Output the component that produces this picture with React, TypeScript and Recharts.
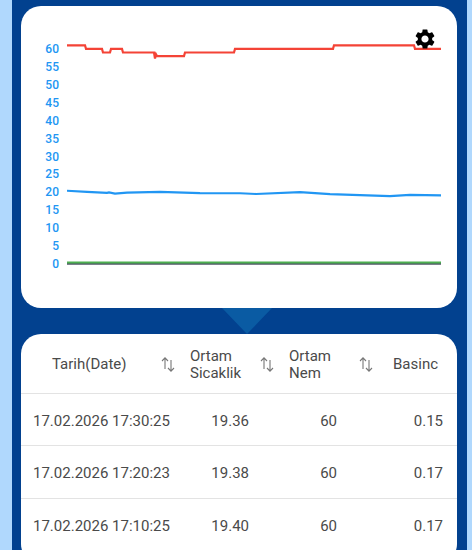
import React from "react";
import { LineChart, Line, XAxis, YAxis } from "recharts";

const yTicks = [0, 5, 10, 15, 20, 25, 30, 35, 40, 45, 50, 55, 60];

// sample offset (along the time axis) and reading
const humidityT = [0, 18, 19, 35, 36, 43, 44, 55, 56, 87, 88, 89, 90, 117, 118, 167, 168, 266, 267, 347, 348, 374];
const humidityV = [60.9, 60.9, 59.9, 59.9, 58.9, 58.9, 59.9, 59.9, 58.9, 58.9, 57.2, 58.4, 57.9, 57.9, 58.9, 58.9, 59.9, 59.9, 60.9, 60.9, 59.9, 59.9];

const tempT = [0, 20, 40, 42, 48, 60, 93, 133, 173, 189, 233, 263, 323, 343, 374];
const tempV = [20.4, 20.1, 19.8, 19.95, 19.6, 19.85, 20.1, 19.75, 19.7, 19.5, 20.0, 19.45, 18.9, 19.25, 19.1];

const pressT = [0, 374];
const pressV = [0.45, 0.45];
const lowT = [0, 374];
const lowV = [0.05, 0.05];

const toRows = (t: number[], v: number[]) => t.map((x, i) => ({ x, v: v[i] }));

const headers = ["Tarih(Date)", "Ortam\nSicaklik", "Ortam\nNem", "Basinc"];
const tableDates = ["17.02.2026 17:30:25", "17.02.2026 17:20:23", "17.02.2026 17:10:25"];
const tableTemp = ["19.36", "19.38", "19.40"];
const tableHum = ["60", "60", "60"];
const tablePress = ["0.15", "0.17", "0.17"];

const font = "Roboto, sans-serif";
const textColor = "#4a4a4a";

const abs = (left: number, top: number, extra: React.CSSProperties = {}): React.CSSProperties => ({
  position: "absolute",
  left,
  top,
  ...extra,
});

function SortIcon({ x, y }: { x: number; y: number }) {
  return (
    <svg style={abs(x, y)} width={16} height={17} viewBox="0 0 16 17" fill="none" stroke="#777" strokeWidth={1.1}>
      <path d="M5 13V2M2 5l3-3.2L8 5" />
      <path d="M11 4v11M8 12l3 3.2L14 12" />
    </svg>
  );
}

function HeaderText({ x, text }: { x: number; text: string }) {
  const lines = text.split("\n");
  return (
    <div style={abs(x, lines.length > 1 ? 348 : 356, { fontSize: 15, lineHeight: "17px", color: textColor, fontFamily: font, whiteSpace: "pre" })}>
      {text}
    </div>
  );
}

function Cell({ right, y, text }: { right: number; y: number; text: string }) {
  return (
    <div style={{ position: "absolute", right: 472 - right, top: y, fontSize: 15, lineHeight: "17px", color: textColor, fontFamily: font, whiteSpace: "pre" }}>
      {text}
    </div>
  );
}

export default function App() {
  return (
    <div style={{ position: "fixed", left: 0, top: 0, width: 472, height: 550, overflow: "hidden", background: "#b0d8fd", fontFamily: font }}>
      <div style={abs(12, 0, { width: 455, height: 550, background: "#02418f" })} />
      <svg style={abs(0, 0)} width={472} height={550}>
        <polygon points="222,308 272,308 247,334" fill="#0a5ba3" />
      </svg>
      <div style={abs(21, 6, { width: 436, height: 302, background: "#fff", borderRadius: 20 })} />
      <div style={abs(0, 0)}>
        <LineChart
          width={472}
          height={320}
          data={toRows(tempT, tempV)}
          margin={{ top: 30.6, right: 31, bottom: 56, left: 17 }}
        >
          <XAxis dataKey="x" type="number" domain={[0, 374]} hide allowDataOverflow />
          <YAxis
            domain={[0, 65]}
            ticks={yTicks}
            interval={0}
            axisLine={false}
            tickLine={false}
            width={50}
            tickMargin={2}
            tick={{ fontSize: 12, fontWeight: 500, fontFamily: font, fill: "#2196f3" }}
          />
          <Line data={toRows(lowT, lowV)} dataKey="v" type="linear" stroke="#4f5566" strokeWidth={2} dot={false} isAnimationActive={false} />
          <Line data={toRows(pressT, pressV)} dataKey="v" type="linear" stroke="#4caf50" strokeWidth={2} dot={false} isAnimationActive={false} />
          <Line data={toRows(tempT, tempV)} dataKey="v" type="linear" stroke="#2196f3" strokeWidth={2.2} dot={false} isAnimationActive={false} />
          <Line data={toRows(humidityT, humidityV)} dataKey="v" type="linear" stroke="#f44336" strokeWidth={2.2} dot={false} isAnimationActive={false} />
        </LineChart>
      </div>
      <svg style={abs(413, 27)} width={24} height={24} viewBox="0 0 24 24">
        <path
          fill="#000"
          d="M19.14 12.94c.04-.3.06-.61.06-.94 0-.32-.02-.64-.07-.94l2.03-1.58a.49.49 0 0 0 .12-.61l-1.92-3.32a.488.488 0 0 0-.59-.22l-2.39.96c-.5-.38-1.03-.7-1.62-.94l-.36-2.54a.484.484 0 0 0-.48-.41h-3.84c-.24 0-.43.17-.47.41l-.36 2.54c-.59.24-1.13.57-1.62.94l-2.39-.96c-.22-.08-.47 0-.59.22L2.74 8.87c-.12.21-.08.47.12.61l2.03 1.58c-.05.3-.09.63-.09.94s.02.64.07.94l-2.03 1.58a.49.49 0 0 0-.12.61l1.92 3.32c.12.22.37.29.59.22l2.39-.96c.5.38 1.03.7 1.62.94l.36 2.54c.05.24.24.41.48.41h3.84c.24 0 .44-.17.47-.41l.36-2.54c.59-.24 1.13-.56 1.62-.94l2.39.96c.22.08.47 0 .59-.22l1.92-3.32c.12-.22.07-.47-.12-.61l-2.01-1.58zM12 15.6c-1.98 0-3.6-1.62-3.6-3.6s1.62-3.6 3.6-3.6 3.6 1.62 3.6 3.6-1.62 3.6-3.6 3.6z"
        />
      </svg>
      <div style={abs(21, 334, { width: 436, height: 230, background: "#fff", borderRadius: 20 })} />
      <HeaderText x={52} text={headers[0]} />
      <HeaderText x={190} text={headers[1]} />
      <HeaderText x={289} text={headers[2]} />
      <HeaderText x={393} text={headers[3]} />
      <SortIcon x={160} y={356} />
      <SortIcon x={259} y={356} />
      <SortIcon x={358} y={356} />
      {[393, 445, 498].map((y) => (
        <div key={y} style={abs(21, y, { width: 436, height: 1, background: "#e3e3e3" })} />
      ))}
      {tableDates.map((d, i) => {
        const y = 412.5 + i * 52.6;
        return (
          <React.Fragment key={d}>
            <div style={abs(33, y, { fontSize: 15, lineHeight: "17px", color: textColor, whiteSpace: "pre" })}>{d}</div>
            <Cell right={249} y={y} text={tableTemp[i]} />
            <Cell right={337} y={y} text={tableHum[i]} />
            <Cell right={443} y={y} text={tablePress[i]} />
          </React.Fragment>
        );
      })}
    </div>
  );
}
